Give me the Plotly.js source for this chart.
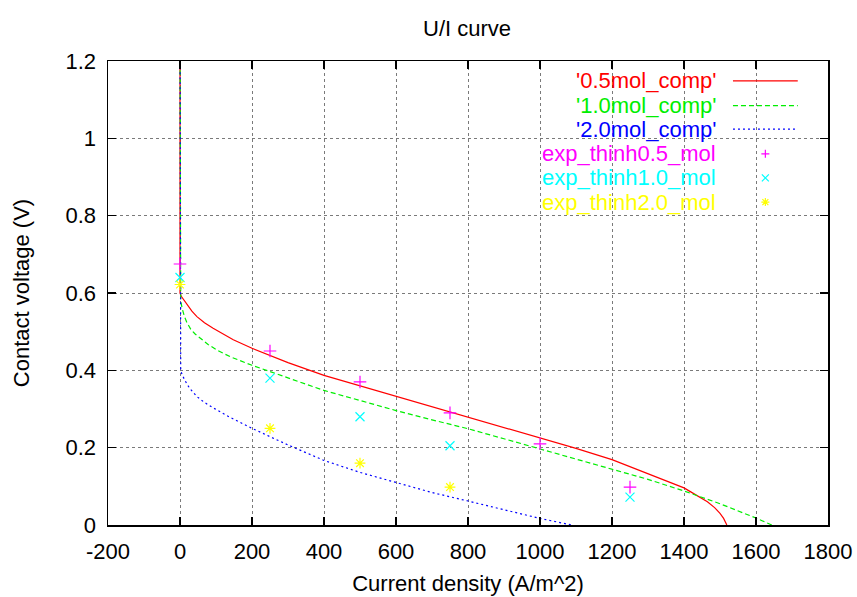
<!DOCTYPE html>
<html>
<head>
<meta charset="utf-8">
<script src="https://cdn.plot.ly/plotly-3.0.1.min.js"></script>
<style>html,body{margin:0;padding:0;background:#fff;}#chart{width:857px;height:597px;}</style>
</head>
<body>
<div id="chart"></div>
<script>
// Simulated curves (x: current density A/m^2, y: contact voltage V)
const comp05X = [0, 0, 3, 8, 14, 22, 33, 47, 68, 92, 120, 148, 200, 300, 400, 500, 600, 700, 800, 900, 1000, 1100, 1200, 1300, 1400, 1420, 1445, 1465, 1485, 1500, 1510, 1519];
const comp05Y = [1.3, 0.60, 0.592, 0.585, 0.577, 0.567, 0.553, 0.539, 0.523, 0.509, 0.493, 0.479, 0.457, 0.42, 0.387, 0.36, 0.333, 0.305, 0.278, 0.252, 0.226, 0.198, 0.169, 0.133, 0.096, 0.085, 0.072, 0.06, 0.045, 0.03, 0.017, 0];
const comp10X = [0, 0, 2, 6, 12, 19, 30, 42, 56, 78, 103, 140, 200, 300, 400, 500, 600, 700, 800, 900, 1000, 1100, 1200, 1300, 1400, 1500, 1600, 1644];
const comp10Y = [1.3, 0.60, 0.58, 0.56, 0.54, 0.524, 0.506, 0.494, 0.484, 0.467, 0.452, 0.435, 0.413, 0.38, 0.348, 0.322, 0.296, 0.272, 0.249, 0.223, 0.197, 0.171, 0.145, 0.118, 0.088, 0.055, 0.018, 0];
const comp20X = [0, 0, 2, 6, 12, 20, 30, 47, 68, 92, 140, 200, 300, 400, 500, 600, 700, 800, 900, 1000, 1088];
const comp20Y = [1.3, 0.42, 0.40, 0.388, 0.376, 0.363, 0.35, 0.332, 0.317, 0.303, 0.278, 0.25, 0.207, 0.167, 0.136, 0.109, 0.084, 0.062, 0.04, 0.017, 0];

// Experimental points
const exp05X = [0, 250, 500, 750, 1000, 1250];
const exp05Y = [0.675, 0.45, 0.37, 0.29, 0.21, 0.098];
const exp10X = [0, 250, 500, 750, 1250];
const exp10Y = [0.64, 0.38, 0.28, 0.205, 0.072];
const exp20X = [0, 250, 500, 750];
const exp20Y = [0.622, 0.25, 0.16, 0.098];

const seriesNames = ["'0.5mol_comp'", "'1.0mol_comp'", "'2.0mol_comp'", "exp_thinh0.5_mol", "exp_thinh1.0_mol", "exp_thinh2.0_mol"];
const seriesColors = ["#ff0000", "#00ee00", "#0000ff", "#ff00ff", "#00ffff", "#ffff00"];

const xTickVals = [-200, 0, 200, 400, 600, 800, 1000, 1200, 1400, 1600, 1800];
const xTickText = ["-200", "0", "200", "400", "600", "800", "1000", "1200", "1400", "1600", "1800"];
const yTickVals = [0, 0.2, 0.4, 0.6, 0.8, 1.0, 1.2];
const yTickText = ["0", "0.2", "0.4", "0.6", "0.8", "1", "1.2"];

const FONT = "Liberation Sans, Arial, Helvetica, sans-serif";
const FS = 22;
const KEY_FS = 22;

const traces = [
  {x: comp05X, y: comp05Y, mode: "lines", line: {color: seriesColors[0], width: 1.2}, name: seriesNames[0]},
  {x: comp10X, y: comp10Y, mode: "lines", line: {color: seriesColors[1], width: 1.2, dash: "5px,3px"}, name: seriesNames[1]},
  {x: comp20X, y: comp20Y, mode: "lines", line: {color: seriesColors[2], width: 1.2, dash: "2px,3px"}, name: seriesNames[2]},
  {x: exp05X, y: exp05Y, mode: "markers", marker: {symbol: "cross-thin-open", size: 9, color: seriesColors[3], line: {color: seriesColors[3], width: 1.2}}, name: seriesNames[3], cliponaxis: false},
  {x: exp10X, y: exp10Y, mode: "markers", marker: {symbol: "x-thin-open", size: 9, color: seriesColors[4], line: {color: seriesColors[4], width: 1.2}}, name: seriesNames[4], cliponaxis: false},
  {x: exp20X, y: exp20Y, mode: "markers", marker: {symbol: "asterisk-open", size: 9, color: seriesColors[5], line: {color: seriesColors[5], width: 1.2}}, name: seriesNames[5], cliponaxis: false}
];

// Gnuplot-style key: text right-aligned, sample to the right
const keyTextX = 0.847, keySampleX0 = 0.868, keySampleX1 = 0.958, keyMarkX = 0.913;
const keyRowsY = [0.957, 0.904, 0.853, 0.800, 0.748, 0.696];
const annotations = seriesNames.map((n, i) => ({
  xref: "paper", yref: "paper", x: keyTextX, y: keyRowsY[i], xanchor: "right", yanchor: "middle",
  text: n, showarrow: false, font: {family: FONT, size: KEY_FS, color: seriesColors[i]}
}));
const shapes = [
  {type: "rect", xref: "paper", yref: "paper", x0: 0.343, x1: 0.979, y0: 0.667, y1: 1, layer: "between", fillcolor: "#ffffff", line: {width: 0}},
  {type: "line", xref: "paper", yref: "paper", x0: keySampleX0, x1: keySampleX1, y0: keyRowsY[0], y1: keyRowsY[0], line: {color: seriesColors[0], width: 1.2}},
  {type: "line", xref: "paper", yref: "paper", x0: keySampleX0, x1: keySampleX1, y0: keyRowsY[1], y1: keyRowsY[1], line: {color: seriesColors[1], width: 1.2, dash: "5px,3px"}},
  {type: "line", xref: "paper", yref: "paper", x0: keySampleX0, x1: keySampleX1, y0: keyRowsY[2], y1: keyRowsY[2], line: {color: seriesColors[2], width: 1.2, dash: "2px,3px"}},
  {type: "path", xref: "paper", yref: "paper", xsizemode: "pixel", ysizemode: "pixel", xanchor: keyMarkX, yanchor: keyRowsY[3], path: "M-4,0H4M0,-4V4", line: {color: seriesColors[3], width: 1.2}},
  {type: "path", xref: "paper", yref: "paper", xsizemode: "pixel", ysizemode: "pixel", xanchor: keyMarkX, yanchor: keyRowsY[4], path: "M-3.5,-3.5L3.5,3.5M-3.5,3.5L3.5,-3.5", line: {color: seriesColors[4], width: 1.2}},
  {type: "path", xref: "paper", yref: "paper", xsizemode: "pixel", ysizemode: "pixel", xanchor: keyMarkX, yanchor: keyRowsY[5], path: "M-4,0H4M0,-4V4M-3,-3L3,3M-3,3L3,-3", line: {color: seriesColors[5], width: 1.2}}
];

const axisCommon = {
  showline: true, linecolor: "#000", linewidth: 1.5, mirror: "ticks",
  ticks: "inside", ticklen: 8, tickcolor: "#000", tickwidth: 1.2,
  showgrid: true, gridcolor: "#7a7a7a", griddash: "dot", gridwidth: 1,
  zeroline: false, tickfont: {family: FONT, size: FS, color: "#000"}
};

const layout = {
  width: 857, height: 597,
  margin: {l: 108, r: 29, t: 61, b: 72, autoexpand: false},
  paper_bgcolor: "#fff", plot_bgcolor: "#fff",
  showlegend: false,
  title: {text: "U/I curve", x: 0.545, xanchor: "center", y: 0.953, yref: "container", yanchor: "middle", font: {family: FONT, size: FS, color: "#000"}},
  xaxis: Object.assign({}, axisCommon, {
    range: [-200, 1800], tickvals: xTickVals, ticktext: xTickText, ticklabelstandoff: 6,
    title: {text: "Current density (A/m^2)", font: {family: FONT, size: FS, color: "#000"}, standoff: 12}
  }),
  yaxis: Object.assign({}, axisCommon, {
    range: [0, 1.2], tickvals: yTickVals, ticktext: yTickText, ticklabelstandoff: 6,
    title: {text: "Contact voltage (V)", font: {family: FONT, size: FS, color: "#000"}, standoff: 30}
  }),
  annotations: annotations,
  shapes: shapes
};

Plotly.newPlot("chart", traces, layout, {displayModeBar: false, staticPlot: true});
</script>
</body>
</html>
